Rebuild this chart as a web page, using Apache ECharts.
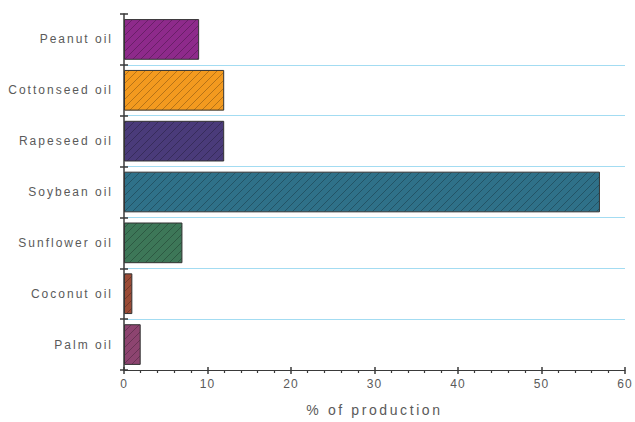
<!DOCTYPE html>
<html>
<head>
<meta charset="utf-8">
<script src="https://cdn.jsdelivr.net/npm/echarts@6/dist/echarts.min.js"></script>
<style>
  html, body { margin: 0; padding: 0; background: #fff; }
  #chart { width: 635px; height: 422px; }
</style>
</head>
<body>
<div id="chart"></div>
<script>
// Share of world vegetable oil production by oil type
const oils = ['Peanut oil', 'Cottonseed oil', 'Rapeseed oil', 'Soybean oil', 'Sunflower oil', 'Coconut oil', 'Palm oil'];
const shares = [9, 12, 12, 57, 7, 1, 2];
const barColors = ['#8e2a8b', '#f39a1f', '#4a3b7a', '#2f7189', '#3d7758', '#9a4b36', '#8d4470'];
const xTicks = [0, 10, 20, 30, 40, 50, 60];
const xTitle = '% of production';

// Diagonal hatch tile drawn over a base colour
function hatch(base) {
  const s = 8;
  const c = document.createElement('canvas');
  c.width = s; c.height = s;
  const g = c.getContext('2d');
  g.fillStyle = base;
  g.fillRect(0, 0, s, s);
  g.strokeStyle = 'rgba(0,0,0,0.25)';
  g.lineWidth = 1;
  g.beginPath();
  g.moveTo(0, s); g.lineTo(s, 0);
  g.moveTo(-1, 1); g.lineTo(1, -1);
  g.moveTo(s - 1, s + 1); g.lineTo(s + 1, s - 1);
  g.stroke();
  return { image: c, repeat: 'repeat' };
}

const font = "'Liberation Sans', Arial, sans-serif";
const axisColor = '#3a3a3a';
const labelColor = '#5a5a5a';

const chart = echarts.init(document.getElementById('chart'), null, { renderer: 'svg' });
chart.setOption({
  animation: false,
  grid: { left: 124, right: 10, top: 14, bottom: 50 },
  xAxis: [
    {
      type: 'value',
      min: xTicks[0],
      max: xTicks[xTicks.length - 1],
      interval: xTicks[1] - xTicks[0],
      axisLine: { show: true, lineStyle: { color: axisColor, width: 1 } },
      axisTick: { show: true, length: 4, lineStyle: { color: axisColor, width: 1.5 } },
      minorTick: { show: true, splitNumber: 5, length: 3, lineStyle: { color: axisColor, width: 1.2 } },
      splitLine: { show: false },
      axisLabel: { color: labelColor, fontFamily: font, fontSize: 12, margin: 8 },
      name: xTitle,
      nameLocation: 'middle',
      nameGap: 33,
      nameTextStyle: { color: labelColor, fontFamily: font, fontSize: 14 }
    },
    {
      type: 'value',
      position: 'bottom',
      min: xTicks[0],
      max: xTicks[xTicks.length - 1],
      interval: xTicks[1] - xTicks[0],
      axisLine: { show: false },
      axisTick: { show: true, inside: true, length: 3, lineStyle: { color: axisColor, width: 1.5 } },
      axisLabel: { show: false },
      splitLine: { show: false }
    }
  ],
  yAxis: [
    {
      type: 'category',
      data: oils,
      inverse: true,
      axisLine: { show: true, lineStyle: { color: axisColor, width: 1.5 } },
      axisTick: { show: true, length: 4, lineStyle: { color: axisColor, width: 1.5 } },
      axisLabel: { color: labelColor, fontFamily: font, fontSize: 12, margin: 11 },
      splitLine: {
        show: true,
        interval: function (index) { return index !== 0; },
        lineStyle: { color: '#a3dcf2', width: 1 }
      }
    },
    {
      type: 'category',
      data: oils,
      inverse: true,
      position: 'left',
      axisLine: { show: false },
      axisTick: { show: true, inside: true, length: 4, lineStyle: { color: axisColor, width: 1.5 } },
      axisLabel: { show: false },
      splitLine: { show: false }
    }
  ],
  series: [{
    type: 'bar',
    xAxisIndex: 0,
    yAxisIndex: 0,
    barCategoryGap: '20%',
    data: shares.map((v, i) => ({
      value: v,
      itemStyle: { color: hatch(barColors[i]), borderColor: '#333', borderWidth: 1 }
    }))
  }]
});

// Widen the tracking of the axis texts
function spaceText() {
  document.querySelectorAll('#chart text').forEach(t => {
    const s = t.textContent;
    if (s === xTitle) t.style.letterSpacing = '2.6px';
    else if (/^\d+$/.test(s)) t.style.letterSpacing = '1px';
    else t.style.letterSpacing = '2px';
  });
}
chart.on('finished', spaceText);
spaceText();
</script>
</body>
</html>
